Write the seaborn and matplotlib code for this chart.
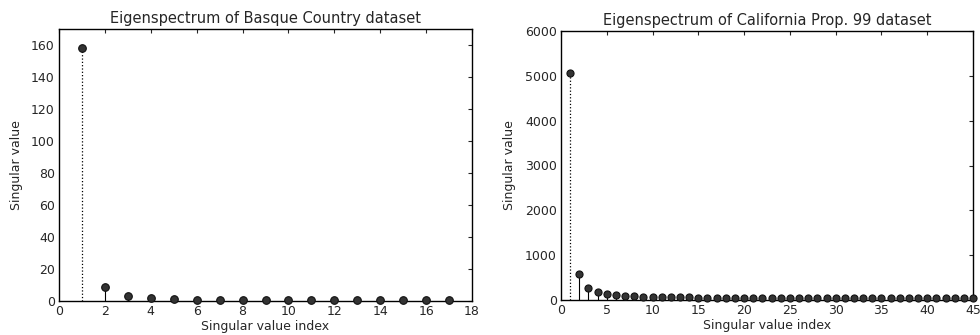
import numpy as np
import pandas as pd
import matplotlib
matplotlib.use("Agg")
import matplotlib.pyplot as plt
import seaborn as sns

# singular values
basque_idx = list(range(1, 18))
basque_sv = [158, 9, 3, 1.6, 1.5, 0.8, 0.8, 0.8, 0.8, 0.8, 0.8, 0.5, 0.4, 0.5, 0.4, 0.5, 0.4]

calif_idx = list(range(1, 46))
calif_sv = [5070, 570, 270, 170, 140, 110, 85, 85, 65, 65,
            60, 60, 60, 65, 55, 45, 45, 45, 45, 45,
            45, 45, 45, 45, 45, 45, 45, 45, 45, 45,
            45, 45, 45, 45, 50, 40, 40, 40, 40, 40,
            40, 40, 40, 40, 40]

sns.set_style("white")
plt.rcParams["font.family"] = ["DejaVu Sans"]


def stem_panel(ax, idx, vals, title, xlim, ylim, xticks, yticks, msize):
    df = pd.DataFrame({"idx": idx, "sv": vals})
    ax.vlines(df["idx"].iloc[1:], 0, df["sv"].iloc[1:], color="black", linewidth=0.8)
    # first stem looks dotted in the original
    ax.vlines(df["idx"].iloc[:1], 0, df["sv"].iloc[:1], color="black",
              linewidth=0.9, linestyles=":")
    sns.scatterplot(data=df, x="idx", y="sv", ax=ax, color="#333333",
                    s=msize, edgecolor="#111111", linewidth=0.8, zorder=3,
                    clip_on=False)
    ax.set_xlim(*xlim)
    ax.set_ylim(*ylim)
    ax.set_xticks(xticks)
    ax.set_yticks(yticks)
    ax.set_title(title, fontsize=10.5, pad=4)
    ax.set_xlabel("Singular value index", fontsize=9, labelpad=1)
    ax.set_ylabel("Singular value", fontsize=9, labelpad=6)
    ax.tick_params(direction="in", top=True, right=True, length=3,
                   labelsize=9, pad=3)
    for sp in ax.spines.values():
        sp.set_color("black")
        sp.set_linewidth(1.0)


fig = plt.figure(figsize=(9.8, 3.35), dpi=100)
ax1 = fig.add_axes([59 / 980, 34 / 335, 413 / 980, 272 / 335])
ax2 = fig.add_axes([561 / 980, 35 / 335, 412 / 980, 269 / 335])

stem_panel(ax1, basque_idx, basque_sv, "Eigenspectrum of Basque Country dataset",
           (0, 18), (0, 170), range(0, 19, 2), range(0, 161, 20), 30)
stem_panel(ax2, calif_idx, calif_sv, "Eigenspectrum of California Prop. 99 dataset",
           (0, 45), (0, 6000), range(0, 46, 5), range(0, 6001, 1000), 26)

fig.savefig("out.png", dpi=100)
